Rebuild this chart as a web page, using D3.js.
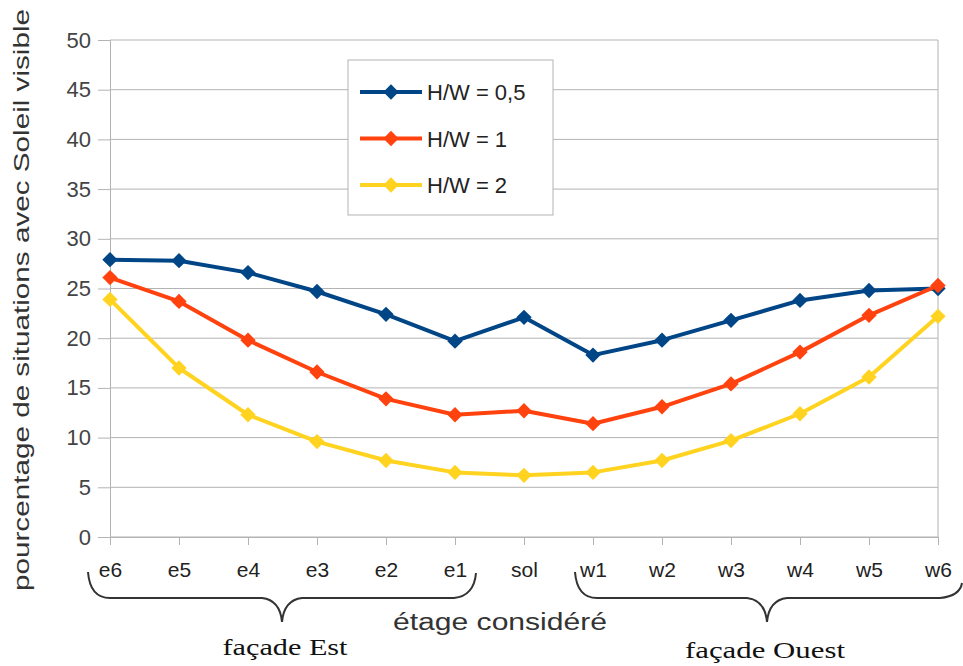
<!DOCTYPE html>
<html><head><meta charset="utf-8">
<script src="https://cdn.jsdelivr.net/npm/d3@7/dist/d3.min.js"></script>
<style>body{margin:0;background:#fff}svg{display:block}</style>
</head><body>
<svg id="c" width="963" height="666"></svg>
<script>
const categories = ["e6","e5","e4","e3","e2","e1","sol","w1","w2","w3","w4","w5","w6"];
const hw05 = [27.9,27.8,26.6,24.7,22.4,19.7,22.1,18.3,19.8,21.8,23.8,24.8,25.0];
const hw1  = [26.1,23.7,19.8,16.6,13.9,12.3,12.7,11.4,13.1,15.4,18.6,22.3,25.3];
const hw2  = [23.9,17.0,12.3,9.6,7.7,6.5,6.2,6.5,7.7,9.7,12.4,16.1,22.2];
const seriesNames = ["H/W = 0,5","H/W = 1","H/W = 2"];
const seriesColors = ["#004586","#ff420e","#ffd320"];
const yTicks = [0,5,10,15,20,25,30,35,40,45,50];
const yTitle = "pourcentage de situations avec Soleil visible";
const xTitle = "étage considéré";
const groupLabels = ["façade Est","façade Ouest"];

const series = [hw05, hw1, hw2];
const svg = d3.select("#c");
const L = 110, R = 938, T = 40, B = 537;
const x = d3.scalePoint().domain(categories).range([L, R]);
const y = d3.scaleLinear().domain([0, 50]).range([B, T]);
const font = "'Liberation Sans', Arial, sans-serif";

// gridlines
svg.append("g").selectAll("line").data(yTicks).join("line")
  .attr("x1", L).attr("x2", R).attr("y1", d => y(d)).attr("y2", d => y(d))
  .attr("stroke", "#b3b3b3").attr("stroke-width", 1);
// right border
svg.append("line").attr("x1", R).attr("x2", R).attr("y1", T).attr("y2", B)
  .attr("stroke", "#b3b3b3");

// y axis
const ya = svg.append("g").attr("transform", `translate(${L},0)`)
  .call(d3.axisLeft(y).tickValues(yTicks).tickSize(12).tickPadding(7));
ya.select(".domain").attr("stroke", "#b3b3b3");
ya.selectAll(".tick line").attr("stroke", "#b3b3b3");
ya.selectAll(".tick text").attr("font-family", font).attr("font-size", 22).attr("fill", "#444");

// x axis
const xa = svg.append("g").attr("transform", `translate(0,${B})`)
  .call(d3.axisBottom(x).tickSize(8).tickPadding(17));
xa.select(".domain").attr("stroke", "#b3b3b3");
xa.selectAll(".tick line").attr("stroke", "#b3b3b3");
xa.selectAll(".tick text").attr("font-family", font).attr("font-size", 21).attr("fill", "#222");

// lines and markers
const line = d3.line().x((d, i) => x(categories[i])).y(d => y(d));
const diamond = d3.symbol().type(d3.symbolDiamond2).size(150);
series.forEach((s, k) => {
  svg.append("path").datum(s).attr("d", line).attr("fill", "none")
    .attr("stroke", seriesColors[k]).attr("stroke-width", 4).attr("stroke-linejoin", "round");
  svg.append("g").selectAll("path").data(s).join("path")
    .attr("d", diamond)
    .attr("transform", (d, i) => `translate(${x(categories[i])},${y(d)})`)
    .attr("fill", seriesColors[k]);
});

// legend
const lg = svg.append("g");
lg.append("rect").attr("x", 348).attr("y", 60).attr("width", 205).attr("height", 155)
  .attr("fill", "#fff").attr("stroke", "#b3b3b3");
seriesNames.forEach((n, k) => {
  const ly = 92 + k * 46.5;
  lg.append("line").attr("x1", 360).attr("x2", 422).attr("y1", ly).attr("y2", ly)
    .attr("stroke", seriesColors[k]).attr("stroke-width", 4);
  lg.append("path").attr("d", diamond).attr("transform", `translate(391,${ly})`).attr("fill", seriesColors[k]);
  lg.append("text").attr("x", 427).attr("y", ly + 8).text(n)
    .attr("font-family", font).attr("font-size", 22).attr("fill", "#222");
});

// titles
svg.append("text").attr("transform", "translate(29,300) rotate(-90)")
  .attr("text-anchor", "middle").attr("font-family", font).attr("font-size", 22)
  .attr("fill", "#333").attr("textLength", 582).attr("lengthAdjust", "spacingAndGlyphs").text(yTitle);
svg.append("text").attr("x", 500).attr("y", 630).attr("text-anchor", "middle")
  .attr("font-family", font).attr("font-size", 23).attr("fill", "#333")
  .attr("textLength", 214).attr("lengthAdjust", "spacingAndGlyphs").text(xTitle);

// braces
function brace(x0, x1, y0, yTop, yMid, tip) {
  const xm = tip;
  return `M${x0},${y0} Q${x0 + 2},${yMid} ${x0 + 22},${yMid} L${xm - 20},${yMid} Q${xm - 2},${yMid + 2} ${xm},${yMid + 24}` +
         ` Q${xm + 2},${yMid + 2} ${xm + 20},${yMid} L${x1 - 22},${yMid} Q${x1 - 2},${yMid - 2} ${x1},${yTop}`;
}
svg.append("path").attr("d", brace(x("e6") - 22, x("e1") + 21, 572, 573, 598, 282))
  .attr("fill", "none").attr("stroke", "#333").attr("stroke-width", 2);
svg.append("path").attr("d", brace(x("w1") - 18, 962, 572, 583, 598, 767))
  .attr("fill", "none").attr("stroke", "#333").attr("stroke-width", 2);
const serif = "'Liberation Serif', 'DejaVu Serif', serif";
svg.append("text").attr("x", 285).attr("y", 655).attr("text-anchor", "middle")
  .attr("font-family", serif).attr("font-size", 23).attr("fill", "#111")
  .attr("textLength", 125).attr("lengthAdjust", "spacingAndGlyphs").text(groupLabels[0]);
svg.append("text").attr("x", 765).attr("y", 658).attr("text-anchor", "middle")
  .attr("font-family", serif).attr("font-size", 23).attr("fill", "#111")
  .attr("textLength", 160).attr("lengthAdjust", "spacingAndGlyphs").text(groupLabels[1]);
</script>
</body></html>
